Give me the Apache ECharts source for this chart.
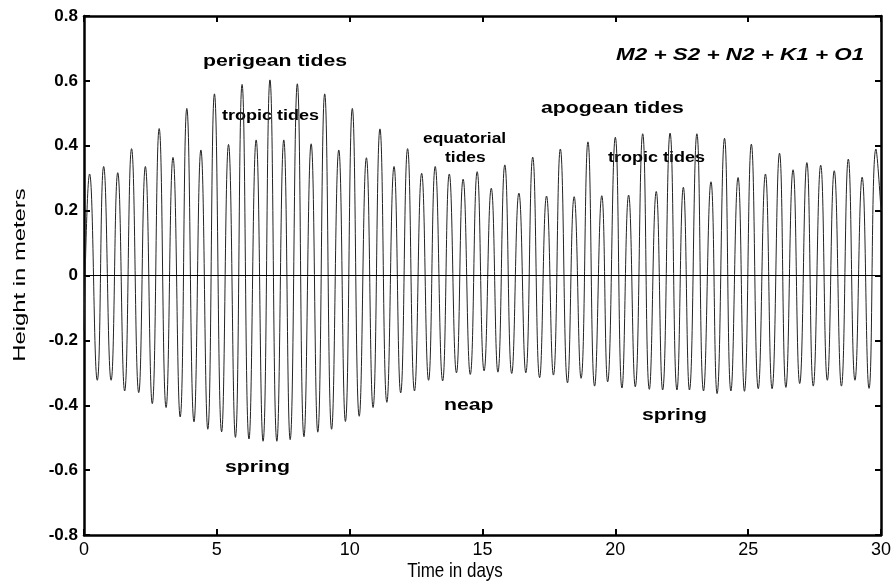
<!DOCTYPE html>
<html>
<head>
<meta charset="utf-8">
<script src="https://cdn.jsdelivr.net/npm/echarts@6/dist/echarts.min.js"></script>
<style>
  html, body { margin: 0; padding: 0; background: #fff; }
  #tides { width: 896px; height: 583px; }
</style>
</head>
<body>
<div id="tides"></div>
<script>
// high waters (time in days, height in m)
var highTimes = [0.21, 0.74, 1.27, 1.79, 2.31, 2.83, 3.35, 3.87, 4.40, 4.91, 5.44, 5.95, 6.48, 7.00, 7.52,
  8.03, 8.55, 9.06, 9.59, 10.10, 10.63, 11.14, 11.67, 12.18, 12.71, 13.22, 13.75, 14.27, 14.80,
  15.33, 15.84, 16.37, 16.89, 17.41, 17.93, 18.45, 18.97, 19.49, 20.00, 20.50, 21.03, 21.54, 22.06,
  22.56, 23.07, 23.60, 24.11, 24.62, 25.12, 25.65, 26.18, 26.69, 27.21, 27.73, 28.24, 28.77, 29.29, 29.81];
var highHeights = [0.313, 0.336, 0.317, 0.391, 0.336, 0.453, 0.364, 0.515, 0.387, 0.560,
  0.404, 0.589, 0.418, 0.603, 0.418, 0.591, 0.406, 0.560, 0.387, 0.515,
  0.363, 0.452, 0.336, 0.391, 0.315, 0.336, 0.313, 0.297, 0.320, 0.269,
  0.341, 0.254, 0.365, 0.245, 0.390, 0.243, 0.412, 0.246, 0.426, 0.248,
  0.437, 0.259, 0.439, 0.272, 0.437, 0.289, 0.423, 0.302, 0.405, 0.313,
  0.377, 0.326, 0.348, 0.340, 0.323, 0.359, 0.303, 0.390];

// low waters
var lowTimes = [0.50, 1.02, 1.53, 2.06, 2.57, 3.09, 3.62, 4.14, 4.66, 5.18, 5.70, 6.21, 6.74, 7.26,
  7.76, 8.28, 8.80, 9.32, 9.84, 10.36, 10.88, 11.40, 11.92, 12.44, 12.97, 13.50, 14.02, 14.54,
  15.06, 15.58, 16.10, 16.63, 17.15, 17.67, 18.20, 18.71, 19.22, 19.71, 20.25, 20.75, 21.28, 21.78, 22.32,
  22.79, 23.32, 23.83, 24.35, 24.86, 25.38, 25.90, 26.42, 26.94, 27.45, 27.98, 28.51, 29.02, 29.55];
var lowHeights = [-0.323, -0.323, -0.356, -0.361, -0.395, -0.407, -0.436, -0.451, -0.474, -0.482,
  -0.499, -0.504, -0.511, -0.511, -0.506, -0.497, -0.483, -0.474, -0.450, -0.434,
  -0.407, -0.391, -0.362, -0.356, -0.323, -0.325, -0.300, -0.305, -0.294, -0.298,
  -0.302, -0.300, -0.315, -0.307, -0.331, -0.317, -0.341, -0.328, -0.347, -0.343,
  -0.351, -0.353, -0.353, -0.353, -0.356, -0.364, -0.356, -0.357, -0.349, -0.349,
  -0.345, -0.333, -0.341, -0.323, -0.341, -0.323, -0.348];

// ends of the record
var startPoint = [0, -0.17];
var endPoint = [30, 0.2];

var xTicks = [0, 5, 10, 15, 20, 25, 30];
var yTicks = [-0.8, -0.6, -0.4, -0.2, 0, 0.2, 0.4, 0.6, 0.8];

var pts = [startPoint];
highTimes.forEach(function (t, i) { pts.push([t, highHeights[i]]); });
lowTimes.forEach(function (t, i) { pts.push([t, lowHeights[i]]); });
pts.push(endPoint);
pts.sort(function (a, b) { return a[0] - b[0]; });

var font = "'Liberation Sans', Arial, sans-serif";

var chart = echarts.init(document.getElementById('tides'));

function boxAxis(extra) {
  return Object.assign({
    type: 'value',
    axisLine: { show: true, onZero: false, lineStyle: { color: '#000', width: 2.5 } },
    axisTick: { show: true, inside: true, length: 6, lineStyle: { color: '#000', width: 2 } },
    splitLine: { show: false }
  }, extra);
}

// annotation text, stretched a bit wider like the original figure
function note(txt, x, y, size, sx, style) {
  return {
    type: 'text', x: x, y: y, scaleX: sx, silent: true,
    style: {
      text: txt, fill: '#000',
      font: (style || 'bold') + ' ' + size + 'px ' + font,
      textAlign: 'left', textVerticalAlign: 'middle'
    }
  };
}

chart.setOption({
  animation: false,
  grid: { left: 84, right: 15, top: 16, bottom: 48 },
  xAxis: [
    boxAxis({
      min: xTicks[0], max: xTicks[xTicks.length - 1], interval: 5,
      position: 'bottom',
      axisLabel: { margin: 6, fontFamily: font, fontSize: 18, color: '#000' }
    }),
    boxAxis({
      min: xTicks[0], max: xTicks[xTicks.length - 1], interval: 5,
      position: 'top',
      axisLabel: { show: false }
    })
  ],
  yAxis: [
    boxAxis({
      min: yTicks[0], max: yTicks[yTicks.length - 1], interval: 0.2,
      position: 'left',
      axisLabel: { margin: 6, fontFamily: font, fontWeight: 'bold', fontSize: 17, color: '#000' }
    }),
    boxAxis({
      min: yTicks[0], max: yTicks[yTicks.length - 1], interval: 0.2,
      position: 'right',
      axisLabel: { show: false }
    })
  ],
  series: [{
    type: 'line',
    data: pts,
    smooth: 0.5,
    showSymbol: false,
    lineStyle: { color: '#222', width: 1 },
    markLine: {
      silent: true,
      symbol: 'none',
      label: { show: false },
      lineStyle: { color: '#000', width: 1, type: 'solid' },
      data: [{ yAxis: 0 }]
    }
  }],
  graphic: [
    {
      type: 'text', x: 20, y: 275, rotation: Math.PI / 2, scaleX: 1.4, silent: true,
      style: { text: 'Height in meters', fill: '#000', font: '17px ' + font, textAlign: 'center', textVerticalAlign: 'middle' }
    },
    {
      type: 'text', x: 455, y: 572, scaleY: 1.15, silent: true,
      style: { text: 'Time in days', fill: '#000', font: '17px ' + font, textAlign: 'center', textVerticalAlign: 'middle' }
    },
    note('perigean tides', 203, 61, 17, 1.25),
    note('tropic tides', 222, 116, 15, 1.2),
    note('equatorial', 423, 139, 15, 1.16),
    note('tides', 445, 158, 15, 1.16),
    note('apogean tides', 541, 108, 17, 1.25),
    note('tropic tides', 608, 158, 15, 1.2),
    note('M2 + S2 + N2 + K1 + O1', 616, 55, 17, 1.32, 'italic bold'),
    note('neap', 444, 405, 17, 1.25),
    note('spring', 225, 467, 17, 1.25),
    note('spring', 642, 415, 17, 1.25)
  ]
});
</script>
</body>
</html>
